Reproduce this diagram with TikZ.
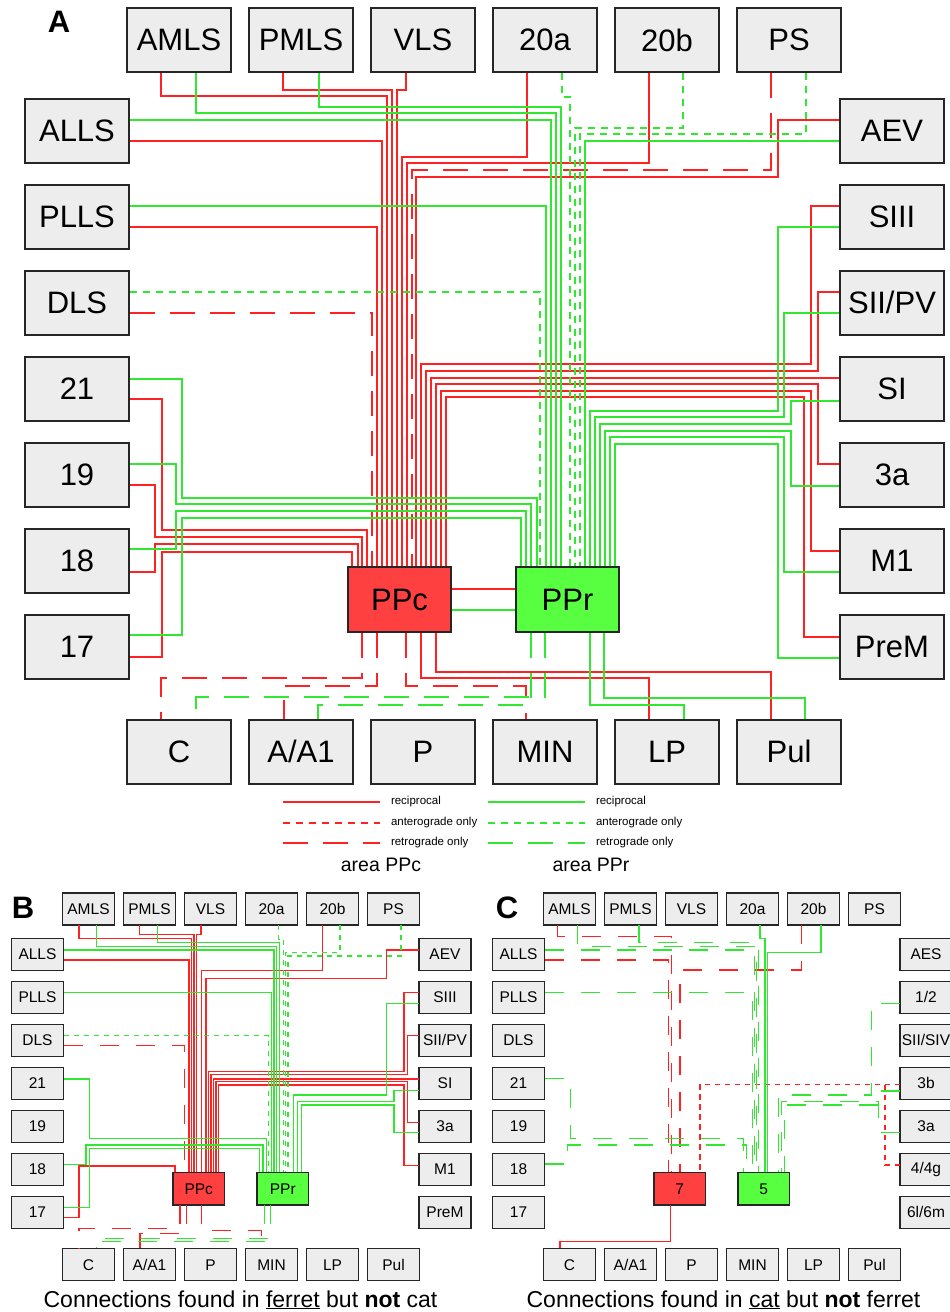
\documentclass[tikz,border=0pt]{standalone}
\usepackage{fontspec}
\setmainfont{Liberation Sans}
\definecolor{wirered}{RGB}{255,34,34}
\definecolor{wiregreen}{RGB}{48,232,48}
\definecolor{ppcred}{RGB}{255,64,64}
\definecolor{pprgreen}{RGB}{88,255,64}
\definecolor{boxgray}{RGB}{237,237,237}

\newcommand\outerboxes{%
\node[area](AMLS)at(179,40){AMLS};
\node[area](PMLS)at(301,40){PMLS};
\node[area](VLS)at(423,40){VLS};
\node[area](a20)at(545,40){20a};
\node[area](b20)at(667,40){20b};
\node[area](PS)at(789,40){PS};
\node[area](ALLS)at(77,130.5){ALLS};
\node[area](PLLS)at(77,216.5){PLLS};
\node[area](DLS)at(77,302.5){DLS};
\node[area](v21)at(77,388.5){21};
\node[area](v19)at(77,474.5){19};
\node[area](v18)at(77,560.5){18};
\node[area](v17)at(77,646.5){17};
\node[area](C)at(179,751.5){C};
\node[area](A1)at(301,751.5){A/A1};
\node[area](P)at(423,751.5){P};
\node[area](MIN)at(545,751.5){MIN};
\node[area](LP)at(667,751.5){LP};
\node[area](Pul)at(789,751.5){Pul};}

\newcommand\ppboxes{%
\node[area](AEV)at(892,130.5){AEV};
\node[area](SIII)at(892,216.5){SIII};
\node[area](SII)at(892,302.5){SII/PV};
\node[area](SI)at(892,388.5){SI};
\node[area](a3)at(892,474.5){3a};
\node[area](M1)at(892,560.5){M1};
\node[area](PreM)at(892,646.5){PreM};
\node[core,fill=ppcred](PPc)at(399.5,599.5){PPc};
\node[core,fill=pprgreen](PPr)at(567.5,599.5){PPr};}

\begin{document}
\begin{tikzpicture}[x=1pt,y=-1pt,line width=2pt,
area/.style={draw=black!85,line width=2pt,fill=boxgray,minimum width=104pt,minimum height=64pt,inner sep=0pt,font=\fontsize{31}{31}\selectfont},
core/.style={area,minimum width=103pt,minimum height=65pt},
ant/.style={dash pattern=on 7pt off 6pt},
ret/.style={dash pattern=on 25pt off 15pt},
rr/.style={draw=wirered},
ra/.style={draw=wirered,ant},
rt/.style={draw=wirered,ret},
gr/.style={draw=wiregreen},
ga/.style={draw=wiregreen,ant},
gt/.style={draw=wiregreen,ret},
legtext/.style={anchor=west,inner sep=0pt,font=\fontsize{11.5}{12}\selectfont},
panel/.style={anchor=base,font=\fontsize{31}{31}\selectfont\bfseries}]
\useasboundingbox(0,0)rectangle(950,1312);

\begin{scope}[name prefix=A-]
\outerboxes
\ppboxes
\draw[rr](161,0 |- AMLS.south)|-(387,96)--(387,0 |- PPc.north);
\draw[rr](283,0 |- PMLS.south)|-(392,90)--(392,0 |- PPc.north);
\draw[rr](406,0 |- VLS.south)|-(397,90)--(397,0 |- PPc.north);
\draw[rr](ALLS.east |- 0,141)-|(382,0 |- PPc.north);
\draw[rr](PLLS.east |- 0,227)-|(377,0 |- PPc.north);
\draw[rt](DLS.east |- 0,313)-|(372,0 |- PPc.north);
\draw[rr](527,0 |- a20.south)|-(402,157)--(402,0 |- PPc.north);
\draw[rr](649,0 |- b20.south)|-(407,163)--(407,0 |- PPc.north);
\draw[rt](771,0 |- PS.south)|-(412,170)--(412,0 |- PPc.north);
\draw[rr](AEV.west |- 0,120)-|(778,177)-|(416,0 |- PPc.north);
\draw[rr](SIII.west |- 0,206)-|(811,364)-|(421,0 |- PPc.north);
\draw[rr](SII.west |- 0,292)-|(818,371)-|(426,0 |- PPc.north);
\draw[rr](SI.west |- 0,378)-|(431,0 |- PPc.north);
\draw[rr](a3.west |- 0,464)-|(818,384)-|(436,0 |- PPc.north);
\draw[rr](M1.west |- 0,551)-|(811,391)-|(441,0 |- PPc.north);
\draw[rr](PreM.west |- 0,637)-|(804,397)-|(446,0 |- PPc.north);
\draw[rr](v21.east |- 0,399)-|(162,530)-|(367,0 |- PPc.north);
\draw[rr](v19.east |- 0,485)-|(155,537)-|(362,0 |- PPc.north);
\draw[rr](v18.east |- 0,572)-|(155,544)-|(358,0 |- PPc.north);
\draw[rr](v17.east |- 0,657)-|(162,552)-|(352,0 |- PPc.north);
\draw[gr](196,0 |- AMLS.south)|-(556,113)--(556,0 |- PPr.north);
\draw[gr](319,0 |- PMLS.south)|-(561,107)--(561,0 |- PPr.north);
\draw[gr](ALLS.east |- 0,120)-|(551,0 |- PPr.north);
\draw[gr](PLLS.east |- 0,206)-|(546,0 |- PPr.north);
\draw[ga](DLS.east |- 0,292)-|(540,0 |- PPr.north);
\draw[ga](562,0 |- a20.south)|-(570,97)--(570,0 |- PPr.north);
\draw[ga](683,0 |- b20.south)|-(575,128)--(575,0 |- PPr.north);
\draw[ga](806,0 |- PS.south)|-(580,134)--(580,0 |- PPr.north);
\draw[gr](AEV.west |- 0,141)-|(585,0 |- PPr.north);
\draw[gr](SIII.west |- 0,227)-|(778,411)-|(590,0 |- PPr.north);
\draw[gr](SII.west |- 0,313)-|(784,417)-|(595,0 |- PPr.north);
\draw[gr](SI.west |- 0,401)-|(791,424)-|(600,0 |- PPr.north);
\draw[gr](a3.west |- 0,486)-|(791,431)-|(605,0 |- PPr.north);
\draw[gr](M1.west |- 0,572)-|(784,437)-|(610,0 |- PPr.north);
\draw[gr](PreM.west |- 0,658)-|(778,444)-|(615,0 |- PPr.north);
\draw[gr](v21.east |- 0,379)-|(182,498)-|(537,0 |- PPr.north);
\draw[gr](v19.east |- 0,464)-|(176,504)-|(531,0 |- PPr.north);
\draw[gr](v18.east |- 0,549)-|(176,511)-|(526,0 |- PPr.north);
\draw[gr](v17.east |- 0,635)-|(182,518)-|(521,0 |- PPr.north);
\draw[rr](PPc.east |- 0,589)--(PPr.west |- 0,589);
\draw[gr](PPc.east |- 0,610)--(PPr.west |- 0,610);
\draw[rr](436,0 |- PPc.south)|-(771,672)--(771,0 |- Pul.north);
\draw[rr](421,0 |- PPc.south)|-(649,678)--(649,0 |- LP.north);
\draw[rt](406,0 |- PPc.south)|-(526,686)--(526,0 |- MIN.north);
\draw[rt](377,0 |- PPc.south)|-(284,686)--(284,0 |- A1.north);
\draw[rt](362,0 |- PPc.south)|-(161,678)--(161,0 |- C.north);
\draw[gr](604,0 |- PPr.south)|-(805,698)--(805,0 |- Pul.north);
\draw[gr](590,0 |- PPr.south)|-(684,705)--(684,0 |- LP.north);
\draw[gt](545,0 |- PPr.south)|-(196,697)--(196,0 |- C.north);
\draw[gt](531,0 |- PPr.south)|-(318,705)--(318,0 |- A1.north);
\end{scope}

\node[panel](labA)at(59,32){A};
\node[panel](labB)at(23,918){B};
\node[panel](labC)at(507,918){C};

\node[legtext](cRecip)at(390,802){reciprocal};
\node[legtext](cAntero)at(390,823){anterograde only};
\node[legtext](cRetro)at(390,843){retrograde only};
\node[legtext](rRecip)at(595,802){reciprocal};
\node[legtext](rAntero)at(595,823){anterograde only};
\node[legtext](rRetro)at(595,843){retrograde only};
\draw[rr]([xshift=-107pt]cRecip.west)--([xshift=-10pt]cRecip.west);
\draw[ra]([xshift=-107pt]cAntero.west)--([xshift=-10pt]cAntero.west);
\draw[rt]([xshift=-107pt]cRetro.west)--([xshift=-10pt]cRetro.west);
\draw[gr]([xshift=-107pt]rRecip.west)--([xshift=-10pt]rRecip.west);
\draw[ga]([xshift=-107pt]rAntero.west)--([xshift=-10pt]rAntero.west);
\draw[gt]([xshift=-107pt]rRetro.west)--([xshift=-10pt]rRetro.west);
\node[font=\fontsize{19.5}{20}\selectfont](areaPPc)at(381,865){area PPc};
\node[font=\fontsize{19.5}{20}\selectfont](areaPPr)at(591,865){area PPr};

\begin{scope}[shift={(-1,889)},scale=.5,transform shape,name prefix=B-,line width=1.6pt,
ant/.style={dash pattern=on 5pt off 5pt},ret/.style={dash pattern=on 19pt off 17pt},
area/.append style={line width=1.4pt}]
\outerboxes
\ppboxes
\draw[rr](160,0 |- AMLS.south)|-(385,99)--(385,0 |- PPc.north);
\draw[rr](281,0 |- PMLS.south)|-(390,91)--(390,0 |- PPc.north);
\draw[rr](404,0 |- VLS.south)|-(395,91)--(395,0 |- PPc.north);
\draw[rr](ALLS.east |- 0,142)-|(380,0 |- PPc.north);
\draw[rt](DLS.east |- 0,313)-|(371,0 |- PPc.north);
\draw[rr](647,0 |- b20.south)|-(405,163)--(405,0 |- PPc.north);
\draw[rr](AEV.west |- 0,122)-|(775,179)-|(414,0 |- PPc.north);
\draw[rr](SIII.west |- 0,207)-|(810,365)-|(419,0 |- PPc.north);
\draw[rr](SII.west |- 0,293)-|(817,371)-|(424,0 |- PPc.north);
\draw[rr](SI.west |- 0,380)-|(429,0 |- PPc.north);
\draw[rr](a3.west |- 0,467)-|(817,385)-|(434,0 |- PPc.north);
\draw[rr](M1.west |- 0,553)-|(810,392)-|(439,0 |- PPc.north);
\draw[rr](v17.east |- 0,657)-|(160,554)-|(352,0 |- PPc.north);
\draw[gr](195,0 |- AMLS.south)|-(555,115)--(555,0 |- PPr.north);
\draw[gr](317,0 |- PMLS.south)|-(561,107)--(561,0 |- PPr.north);
\draw[gr](ALLS.east |- 0,122)-|(550,0 |- PPr.north);
\draw[gr](PLLS.east |- 0,207)-|(545,0 |- PPr.north);
\draw[ga](DLS.east |- 0,293)-|(539,0 |- PPr.north);
\draw[ga](559,0 |- a20.south)|-(569,101)--(569,0 |- PPr.north);
\draw[ga](682,0 |- b20.south)|-(573,127)--(573,0 |- PPr.north);
\draw[ga](804,0 |- PS.south)|-(578,134)--(578,0 |- PPr.north);
\draw[gr](SIII.west |- 0,229)-|(775,412)-|(589,0 |- PPr.north);
\draw[gr](SI.west |- 0,403)-|(790,425)-|(597,0 |- PPr.north);
\draw[gr](a3.west |- 0,487)-|(790,432)-|(605,0 |- PPr.north);
\draw[gr](v21.east |- 0,380)-|(181,499)-|(535,0 |- PPr.north);
\draw[gr](v18.east |- 0,551)-|(174,512)-|(528,0 |- PPr.north);
\draw[gr](v17.east |- 0,637)-|(181,519)-|(521,0 |- PPr.north);
\draw[rt](362,0 |- PPc.south)|-(160,679)--(160,0 |- C.north);
\draw[rt](375,0 |- PPc.south)|-(282,689)--(282,0 |- A1.north);
\draw[rt](405,0 |- PPc.south)|-(525,683)--(525,0 |- MIN.north);
\draw[gt](543,0 |- PPr.south)|-(195,699)--(195,0 |- C.north);
\draw[gt](531,0 |- PPr.south)|-(195,705)--(195,0 |- C.north);
\end{scope}

\begin{scope}[shift={(480,889)},scale=.5,transform shape,name prefix=C-,line width=1.6pt,
ant/.style={dash pattern=on 5pt off 5pt},ret/.style={dash pattern=on 19pt off 17pt},
area/.append style={line width=1.4pt}]
\outerboxes
\node[area](AES)at(892,130.5){AES};
\node[area](S12)at(892,216.5){1/2};
\node[area](SIIS)at(892,302.5){SII/SIV};
\node[area](b3)at(892,388.5){3b};
\node[area](a3)at(892,474.5){3a};
\node[area](g4)at(892,560.5){4/4g};
\node[area](m6)at(892,646.5){6l/6m};
\node[core,fill=ppcred](a7)at(399.5,599.5){7};
\node[core,fill=pprgreen](a5)at(567.5,599.5){5};
\draw[rt](155,0 |- AMLS.south)|-(383,95)--(383,0 |- a7.north);
\draw[rt](ALLS.east |- 0,142)-|(377,0 |- a7.north);
\draw[rt](643,0 |- b20.south)|-(400,162)--(400,0 |- a7.north);
\draw[ra](b3.west |- 0,391)-|(440,0 |- a7.north);
\draw[ra](g4.west |- 0,552)-|(810,391)-|(440,0 |- a7.north);
\draw[rr](381,0 |- a7.south)|-(160,705)--(160,0 |- C.north);
\draw[gr](560,0 |- a20.south)|-(570,99)--(570,0 |- a5.north);
\draw[gr](682,0 |- b20.south)|-(575,127)--(575,0 |- a5.north);
\draw[gt](195,0 |- AMLS.south)|-(553,115)--(553,0 |- a5.north);
\draw[gt](318,0 |- PMLS.south)|-(557,107)--(557,0 |- a5.north);
\draw[gt](ALLS.east |- 0,122)-|(549,0 |- a5.north);
\draw[gt](PLLS.east |- 0,207)-|(545,0 |- a5.north);
\draw[gt](v21.east |- 0,379)-|(181,499)-|(527,0 |- a5.north);
\draw[gt](v18.east |- 0,550)-|(175,512)-|(533,0 |- a5.north);
\draw[gt](S12.west |- 0,229)-|(783,412)-|(597,0 |- a5.north);
\draw[gt](a3.west |- 0,487)-|(797,425)-|(603,0 |- a5.north);
\draw[gt](b3.west |- 0,404)-|(803,432)-|(609,0 |- a5.north);
\end{scope}

\node[font=\fontsize{23}{24}\selectfont,anchor=base](capB)at(240.5,1307){Connections found in \underline{ferret} but \textbf{not} cat};
\node[font=\fontsize{23}{24}\selectfont,anchor=base](capC)at(723.5,1307){Connections found in \underline{cat} but \textbf{not} ferret};
\end{tikzpicture}
\end{document}
